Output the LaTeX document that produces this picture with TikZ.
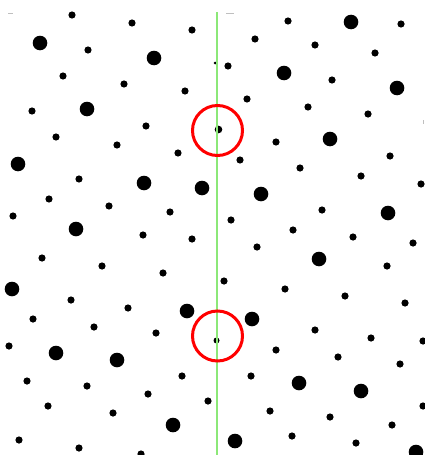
\documentclass[tikz,border=0pt]{standalone}
\begin{document}
\begin{tikzpicture}[x=1pt,y=-1pt,
  bigdot/.style={fill=black,draw=none},
  smalldot/.style={fill=black,draw=none},
  faint/.style={draw=black!25,line width=0.8pt},
  axisline/.style={draw={rgb,255:red,140;green,232;blue,120},line width=1.3pt},
  ring/.style={draw=red,line width=3pt}]
\useasboundingbox[fill=white] (0,0) rectangle (424,455);
\foreach \p in {(40,43),(154,58),(87,109),(351,22),(284,73),(397,88),(330,139),(18,164),(144,183),(202,188),(76,229),(12,289),(261,194),(388,213),(319,259),(187,311),(56,353),(117,360),(173,425),(252,319),(299,383),(361,391),(235,441),(416,452)}
  \fill[bigdot] \p circle (7.3);
\foreach \p in {(72,15),(132,23),(192,30),(88,50),(63,76),(124,84),(185,91),(32,111),(146,126),(56,137),(117,145),(178,153),
(288,21),(401,24),(255,39),(315,45),(375,53),(228,66),(332,80),(247,99),(308,107),(368,114),(276,142),
(79,179),(49,199),(109,206),(13,216),(170,212),(143,235),(192,239),(42,258),(102,266),(163,273),(71,300),
(240,160),(390,156),(300,168),(361,176),(421,184),(322,210),(231,220),(293,230),(353,237),(413,243),(257,247),(387,266),(224,281),(285,289),(345,296),(405,303),
(128,308),(33,319),(94,327),(156,333),(9,346),(182,376),(27,381),(87,386),(148,394),(208,401),(48,406),(113,413),(19,440),(79,448),(141,454),
(315,330),(371,338),(276,350),(338,357),(400,364),(423,341),(251,376),(270,411),(330,417),(392,425),(292,436),(356,443),(423,406)}
  \fill[smalldot] \p circle (3.6);
\fill[smalldot] (218.5,129.5) circle (3.8);
\fill[smalldot] (216.5,340.5) circle (3);
\fill[smalldot] (215,63) circle (1.5);
\draw[faint] (8,13) -- (13,13);
\draw[faint] (226,13) -- (234,13);
\draw[faint] (423,120) -- (423,124);
\coordinate (top) at (217,12);
\coordinate (bottom) at (217,455);
\draw[axisline] (top) -- (bottom);
\draw[ring] (217.5,130.5) circle (25);
\draw[ring] (217.5,336) circle (25);
\end{tikzpicture}
\end{document}
